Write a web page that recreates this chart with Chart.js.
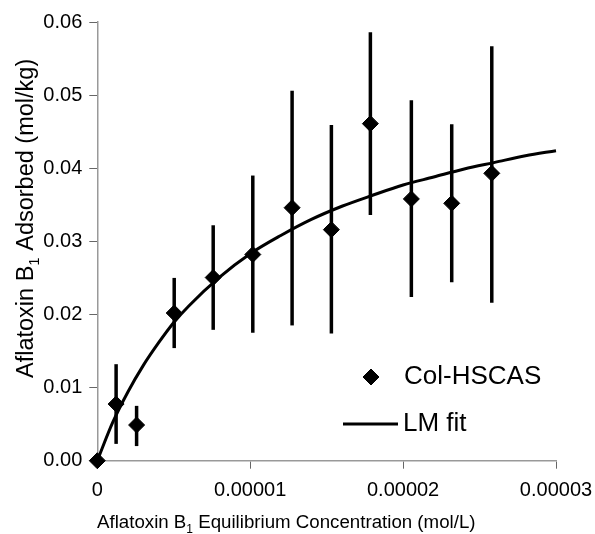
<!DOCTYPE html>
<html>
<head>
<meta charset="utf-8">
<script src="https://cdn.jsdelivr.net/npm/chart.js@4.4.1/dist/chart.umd.min.js"></script>
<style>
  body { margin: 0; background: #ffffff; }
  #wrap { width: 595px; height: 534px; }
</style>
</head>
<body>
<div id="wrap"><canvas id="myChart" width="595" height="534"></canvas></div>
<script>
// measured points (mol/L vs mol/kg)
const concX = [0, 1.23e-6, 2.57e-6, 5.03e-6, 7.58e-6, 1.017e-5, 1.274e-5, 1.531e-5, 1.786e-5, 2.054e-5, 2.318e-5, 2.58e-5];
const adsorbed = [0, 0.00775, 0.00488, 0.0202, 0.02505, 0.0282, 0.0346, 0.0316, 0.0461, 0.0358, 0.0352, 0.0393];
const errHigh = [null, 0.0132, 0.0075, 0.025, 0.0322, 0.039, 0.0506, 0.0459, 0.0586, 0.0493, 0.046, 0.0567];
const errLow = [null, 0.0023, 0.0020, 0.0154, 0.0179, 0.0175, 0.0185, 0.0174, 0.0336, 0.0224, 0.0244, 0.0216];

// fitted curve
const fitX = [0, 1e-6, 2e-6, 3e-6, 4e-6, 5e-6, 6e-6, 8e-6, 1e-5, 1.2e-5, 1.4e-5, 1.6e-5, 1.8e-5, 2e-5, 2.2e-5, 2.4e-5, 2.6e-5, 2.8e-5, 3e-5];
const fitY = [0, 0.0052, 0.0094, 0.0130, 0.0161, 0.0189, 0.0212, 0.0251, 0.0283, 0.0308, 0.0330, 0.0348, 0.0363, 0.0377, 0.0388, 0.0399, 0.0408, 0.0417, 0.0424];

const xTickValues = [0, 0.00001, 0.00002, 0.00003];
const xTickLabels = ['0', '0.00001', '0.00002', '0.00003'];
const yTickLabels = ['0.00', '0.01', '0.02', '0.03', '0.04', '0.05', '0.06'];

const seriesLabel = 'Col-HSCAS';
const fitLabel = 'LM fit';

// axis titles, split so the "1" can be set as a subscript
const xTitleParts = ['Aflatoxin B', '1', ' Equilibrium Concentration (mol/L)'];
const yTitleParts = ['Aflatoxin B', '1', ' Adsorbed (mol/kg)'];

const FONT = "'Liberation Sans', Arial, Helvetica, sans-serif";

// vertical error bars drawn behind the diamonds
const errorBars = {
  id: 'errorBars',
  beforeDatasetsDraw(chart) {
    const ctx = chart.ctx;
    const xs = chart.scales.x, ys = chart.scales.y;
    ctx.save();
    ctx.strokeStyle = '#000';
    ctx.lineWidth = 3.5;
    for (let i = 0; i < concX.length; i++) {
      if (errHigh[i] == null) continue;
      const px = xs.getPixelForValue(concX[i]);
      ctx.beginPath();
      ctx.moveTo(px, ys.getPixelForValue(errLow[i]));
      ctx.lineTo(px, ys.getPixelForValue(errHigh[i]));
      ctx.stroke();
    }
    ctx.restore();
  }
};

function drawSubTitle(ctx, parts, size) {
  let x = 0;
  parts.forEach((p, i) => {
    const sub = i === 1;
    ctx.font = (sub ? Math.round(size * 0.62) : size) + 'px ' + FONT;
    ctx.fillText(p, x, sub ? size * 0.25 : 0);
    x += ctx.measureText(p).width;
  });
}

// axis titles and legend placed like the original figure
const annotations = {
  id: 'annotations',
  afterDraw(chart) {
    const ctx = chart.ctx;
    const ds = chart.data.datasets;
    ctx.save();
    ctx.fillStyle = '#000';
    ctx.strokeStyle = '#000';
    ctx.textBaseline = 'alphabetic';
    ctx.textAlign = 'left';

    // x title
    ctx.save();
    ctx.translate(97, 528);
    drawSubTitle(ctx, xTitleParts, 18.7);
    ctx.restore();

    // y title
    ctx.save();
    ctx.translate(33, 378);
    ctx.rotate(-Math.PI / 2);
    drawSubTitle(ctx, yTitleParts, 23.5);
    ctx.restore();

    // legend
    ctx.font = '26px ' + FONT;
    ctx.textBaseline = 'middle';
    Chart.helpers.drawPoint(ctx, { pointStyle: 'rectRot', radius: 8, borderWidth: 1 }, 371, 377);
    ctx.fill();
    ctx.fillText(ds[0].label, 404, 377);
    ctx.lineWidth = 3;
    ctx.beginPath();
    ctx.moveTo(343, 424);
    ctx.lineTo(398, 424);
    ctx.stroke();
    ctx.fillText(ds[1].label, 403, 424);
    ctx.restore();
  }
};

const ctx = document.getElementById('myChart').getContext('2d');

const data = {
  datasets: [
    {
      label: seriesLabel,
      data: concX.map((x, i) => ({ x: x, y: adsorbed[i] })),
      pointStyle: 'rectRot',
      pointRadius: 8,
      backgroundColor: '#000',
      borderColor: '#000',
      borderWidth: 1,
      showLine: false,
      clip: false,
      order: 1
    },
    {
      label: fitLabel,
      data: fitX.map((x, i) => ({ x: x, y: fitY[i] })),
      showLine: true,
      pointRadius: 0,
      borderColor: '#000',
      borderWidth: 3,
      cubicInterpolationMode: 'monotone',
      fill: false,
      clip: false,
      order: 2
    }
  ]
};

const options = {
  responsive: false,
  animation: false,
  layout: { padding: { top: 22, right: 39, left: 0, bottom: 0 } },
  plugins: {
    legend: { display: false },
    tooltip: { enabled: false }
  },
  scales: {
    x: {
      type: 'linear',
      min: 0,
      max: 0.00003,
      afterBuildTicks: (scale) => { scale.ticks = xTickValues.map(v => ({ value: v })); },
      afterFit: (scale) => {
        scale.height = 73.3;
        scale.paddingLeft = 0;
        scale.paddingRight = 0;
      },
      ticks: {
        color: '#000',
        font: { size: 20, family: FONT },
        padding: 10,
        maxRotation: 0,
        callback: (v, i) => xTickLabels[i]
      },
      grid: { drawOnChartArea: false, drawTicks: true, tickLength: 8, color: '#666' },
      border: { color: '#999', width: 1.5 }
    },
    y: {
      type: 'linear',
      min: 0,
      max: 0.06,
      ticks: {
        stepSize: 0.01,
        color: '#000',
        font: { size: 20, family: FONT },
        padding: 7,
        callback: (v, i) => yTickLabels[i]
      },
      afterFit: (scale) => {
        scale.width = 97.3;
        scale.paddingTop = 0;
        scale.paddingBottom = 0;
      },
      grid: { drawOnChartArea: false, drawTicks: true, tickLength: 8, color: '#666' },
      border: { color: '#999', width: 1.5 }
    }
  }
};

new Chart(ctx, {
  type: 'scatter',
  data: data,
  options: options,
  plugins: [errorBars, annotations]
});
</script>
</body>
</html>
